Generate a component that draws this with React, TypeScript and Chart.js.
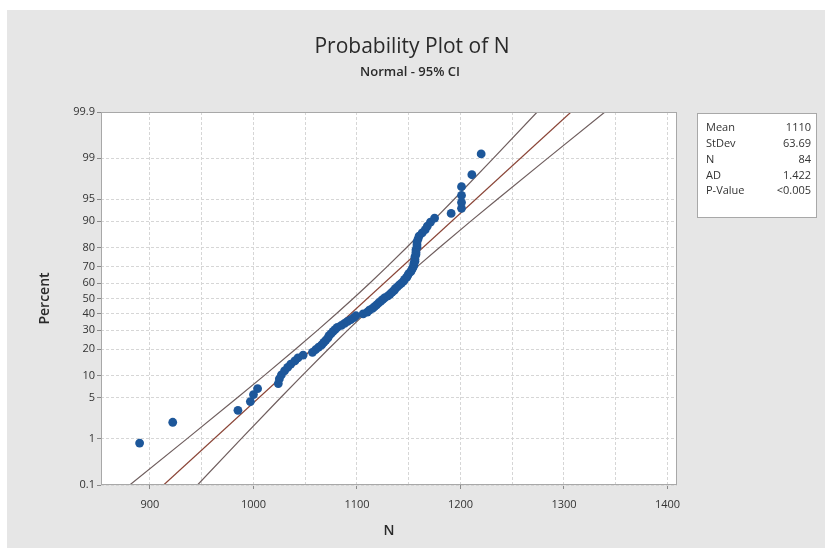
import React, { useEffect, useRef } from 'react';
import { Chart, registerables } from 'chart.js';

Chart.register(...registerables);

// ---------- data ----------
const N_VALUES = [
  890, 922, 985, 997, 1000, 1004, 1024, 1025, 1027, 1030,
  1033, 1036, 1040, 1043, 1048, 1057, 1060, 1063, 1066, 1068,
  1070, 1072, 1073, 1075, 1077, 1079, 1081, 1085, 1088, 1091,
  1094, 1097, 1099, 1106, 1110, 1112, 1115, 1117, 1119, 1121,
  1123, 1125, 1127, 1130, 1132, 1134, 1136, 1137, 1139, 1141,
  1143, 1145, 1146, 1148, 1149, 1150, 1152, 1153, 1154, 1155,
  1155, 1156, 1156, 1156, 1157, 1157, 1157, 1158, 1158, 1158,
  1159, 1160, 1163, 1166, 1168, 1171, 1175, 1191, 1201, 1201,
  1201, 1201, 1211, 1220,
];
const PCT_TICKS = [0.1, 1, 5, 10, 20, 30, 40, 50, 60, 70, 80, 90, 95, 99, 99.9];
const PCT_TICK_LABELS = ['0.1', '1', '5', '10', '20', '30', '40', '50', '60', '70', '80', '90', '95', '99', '99.9'];
const X_GRID = [900, 950, 1000, 1050, 1100, 1150, 1200, 1250, 1300, 1350, 1400];
const X_LABELED = [900, 1000, 1100, 1200, 1300, 1400];
const X_MIN = 852.7;
const X_MAX = 1409.2;
const MEAN = 1110;
const STDEV = 63.69;
const N_COUNT = 84;
const CONF = 0.95;
const STAT_NAMES = ['Mean', 'StDev', 'N', 'AD', 'P-Value'];
const STAT_VALUES = ['1110', '63.69', '84', '1.422', '<0.005'];
const TITLE = 'Probability Plot of N';
const SUBTITLE = 'Normal - 95% CI';
const X_TITLE = 'N';
const Y_TITLE = 'Percent';

const FONT = "'Open Sans', 'Noto Sans', sans-serif";

// inverse standard normal CDF (Acklam)
function normInv(p: number): number {
  const a = [-3.969683028665376e1, 2.209460984245205e2, -2.759285104469687e2, 1.38357751867269e2, -3.066479806614716e1, 2.506628277459239];
  const b = [-5.447609879822406e1, 1.615858368580409e2, -1.556989798598866e2, 6.680131188771972e1, -1.328068155288572e1];
  const c = [-7.784894002430293e-3, -3.223964580411365e-1, -2.400758277161838, -2.549671010322563, 4.374664141464968, 2.938163982698783];
  const d = [7.784695709041462e-3, 3.224671290700398e-1, 2.445134137142996, 3.754408661907416];
  const plow = 0.02425;
  if (p < plow) {
    const q = Math.sqrt(-2 * Math.log(p));
    return (((((c[0] * q + c[1]) * q + c[2]) * q + c[3]) * q + c[4]) * q + c[5]) / ((((d[0] * q + d[1]) * q + d[2]) * q + d[3]) * q + 1);
  }
  if (p > 1 - plow) {
    const q = Math.sqrt(-2 * Math.log(1 - p));
    return -(((((c[0] * q + c[1]) * q + c[2]) * q + c[3]) * q + c[4]) * q + c[5]) / ((((d[0] * q + d[1]) * q + d[2]) * q + d[3]) * q + 1);
  }
  const q = p - 0.5;
  const r = q * q;
  return (((((a[0] * r + a[1]) * r + a[2]) * r + a[3]) * r + a[4]) * r + a[5]) * q / (((((b[0] * r + b[1]) * r + b[2]) * r + b[3]) * r + b[4]) * r + 1);
}

const Z_MIN = normInv(PCT_TICKS[0] / 100);
const Z_MAX = normInv(PCT_TICKS[PCT_TICKS.length - 1] / 100);

export default function App() {
  const ref = useRef<HTMLCanvasElement | null>(null);

  useEffect(() => {
    const canvas = ref.current;
    if (!canvas) return;

    const zc = normInv(1 - (1 - CONF) / 2);
    const pts = N_VALUES.map((v, i) => ({ x: v, y: normInv((i + 1 - 0.3) / (N_COUNT + 0.4)) }));
    const fit = [Z_MIN, Z_MAX].map((z) => ({ x: MEAN + z * STDEV, y: z }));
    const band = (sign: number) =>
      PCT_TICKS.map((p) => {
        const z = normInv(p / 100);
        const se = STDEV * Math.sqrt(1 / N_COUNT + (z * z) / (2 * N_COUNT));
        return { x: MEAN + z * STDEV + sign * zc * se, y: z };
      });

    const framePlugin = {
      id: 'frame',
      beforeDraw(chart: any) {
        const { ctx, chartArea: a } = chart;
        ctx.save();
        ctx.fillStyle = '#ffffff';
        ctx.fillRect(0, 0, chart.width, chart.height);
        ctx.fillStyle = '#e6e6e6';
        ctx.fillRect(7, 10, chart.width - 7, chart.height - 17);
        ctx.fillStyle = '#ffffff';
        ctx.fillRect(a.left, a.top, a.right - a.left, a.bottom - a.top);
        ctx.restore();
      },
      afterDraw(chart: any) {
        const { ctx, chartArea: a } = chart;
        ctx.save();
        ctx.strokeStyle = '#a8a8a8';
        ctx.lineWidth = 1;
        ctx.strokeRect(Math.round(a.left) + 0.5, Math.round(a.top) + 0.5, Math.round(a.right - a.left) - 1, Math.round(a.bottom - a.top) - 1);

        ctx.fillStyle = '#2a2a2a';
        ctx.textAlign = 'center';
        ctx.textBaseline = 'middle';
        ctx.font = `500 21px ${FONT}`;
        ctx.fillText(TITLE, 412, 47);
        ctx.font = `600 13px ${FONT}`;
        ctx.fillText(SUBTITLE, 410, 72);

        ctx.font = `600 14px ${FONT}`;
        ctx.fillText(X_TITLE, (a.left + a.right) / 2, 531);
        ctx.save();
        ctx.translate(45, (a.top + a.bottom) / 2);
        ctx.rotate(-Math.PI / 2);
        ctx.fillText(Y_TITLE, 0, 0);
        ctx.restore();

        // stats box
        const bx = 697, by = 113, bw = 120, bh = 105;
        ctx.fillStyle = '#ffffff';
        ctx.fillRect(bx, by, bw, bh);
        ctx.strokeStyle = '#a8a8a8';
        ctx.strokeRect(bx + 0.5, by + 0.5, bw - 1, bh - 1);
        ctx.fillStyle = '#333333';
        ctx.font = `11px ${FONT}`;
        STAT_NAMES.forEach((nm, i) => {
          const y = 128 + i * 15.8;
          ctx.textAlign = 'left';
          ctx.fillText(nm, bx + 9, y);
          ctx.textAlign = 'right';
          ctx.fillText(STAT_VALUES[i], bx + bw - 6, y);
        });
        ctx.restore();
      },
    };

    const chart = new Chart(canvas, {
      type: 'scatter',
      data: {
        datasets: [
          {
            label: 'N',
            data: pts,
            pointRadius: 4.4,
            pointBackgroundColor: '#1d579a',
            pointBorderWidth: 0,
            order: 0,
          },
          {
            label: 'Fit',
            data: fit,
            showLine: true,
            pointRadius: 0,
            borderColor: '#8a4436',
            borderWidth: 1.2,
            order: 2,
          },
          {
            label: 'Lower',
            data: band(-1),
            showLine: true,
            pointRadius: 0,
            borderColor: '#6f5e5e',
            borderWidth: 1.2,
            order: 3,
          },
          {
            label: 'Upper',
            data: band(1),
            showLine: true,
            pointRadius: 0,
            borderColor: '#6f5e5e',
            borderWidth: 1.2,
            order: 3,
          },
        ],
      },
      options: {
        responsive: false,
        animation: false,
        events: [],
        layout: { padding: { left: 0, top: 112, right: 148, bottom: 0 } },
        plugins: { legend: { display: false }, tooltip: { enabled: false } },
        scales: {
          x: {
            type: 'linear',
            min: X_MIN,
            max: X_MAX,
            afterBuildTicks: (s: any) => {
              s.ticks = X_GRID.map((v) => ({ value: v }));
            },
            afterFit: (s: any) => {
              s.height = 70;
            },
            ticks: {
              autoSkip: false,
              maxRotation: 0,
              padding: 9,
              color: '#333333',
              font: { family: FONT, size: 11 },
              callback: (v: any) => (X_LABELED.includes(Number(v)) ? String(v) : ''),
            },
            grid: {
              color: '#d6d6d6',
              lineWidth: 1,
              tickLength: 4,
              tickColor: (ctx: any) => (ctx.tick && X_LABELED.includes(ctx.tick.value) ? '#8a8a8a' : 'rgba(0,0,0,0)'),
            },
            border: { display: false, dash: [3, 2] },
          },
          y: {
            type: 'linear',
            min: Z_MIN,
            max: Z_MAX,
            afterBuildTicks: (s: any) => {
              s.ticks = PCT_TICKS.map((p) => ({ value: normInv(p / 100) }));
            },
            afterFit: (s: any) => {
              s.width = 101;
            },
            ticks: {
              autoSkip: false,
              padding: 2,
              color: '#333333',
              font: { family: FONT, size: 11 },
              callback: (_v: any, i: number) => PCT_TICK_LABELS[i],
            },
            grid: {
              color: '#d6d6d6',
              lineWidth: 1,
              tickLength: 4,
              tickColor: '#8a8a8a',
            },
            border: { display: false, dash: [3, 2] },
          },
        },
      },
      plugins: [framePlugin],
    } as any);

    return () => chart.destroy();
  }, []);

  return (
    <div style={{ position: 'fixed', left: 0, top: 0, width: 825, height: 555, background: '#fff' }}>
      <canvas ref={ref} width={825} height={555} style={{ display: 'block', width: 825, height: 555 }} />
    </div>
  );
}
